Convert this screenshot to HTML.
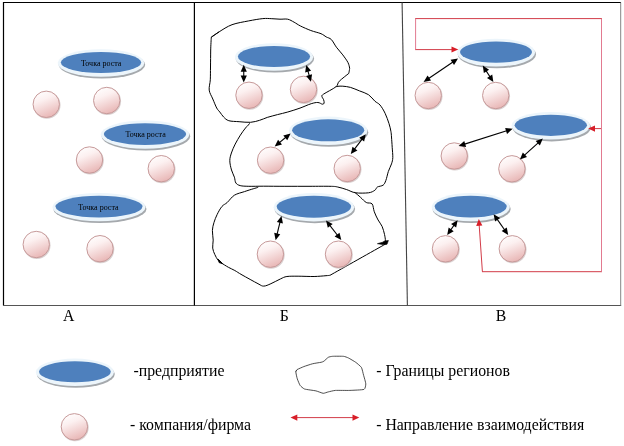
<!DOCTYPE html>
<html lang="ru"><head><meta charset="utf-8"><title>Точка роста</title>
<style>
html,body{margin:0;padding:0;background:#fff;}
body{width:624px;height:446px;overflow:hidden;font-family:"Liberation Serif",serif;}
svg{display:block;will-change:transform;}
text{font-family:"Liberation Serif",serif;fill:#000;}
</style></head><body>
<svg width="624" height="446" viewBox="0 0 624 446">
<defs>
<linearGradient id="pk" x1="0.2" y1="0" x2="0.6" y2="1">
<stop offset="0" stop-color="#ffffff"/><stop offset="0.35" stop-color="#fcf0f0"/><stop offset="1" stop-color="#e8b6b5"/>
</linearGradient>
<filter id="sh" x="-10%" y="-30%" width="120%" height="160%"><feGaussianBlur stdDeviation="0.5"/></filter>
</defs>
<rect x="0" y="0" width="624" height="446" fill="#fff"/>

<path d="M3.5,305.5 V2.5 H621" fill="none" stroke="#000" stroke-width="1.2"/>
<path d="M3,305.5 H621.2" fill="none" stroke="#555" stroke-width="1"/>
<path d="M620.7,2.5 V305.4" fill="none" stroke="#858585" stroke-width="1"/>
<path d="M194.4,2.5 V305.4" fill="none" stroke="#000" stroke-width="1.2"/>
<path d="M402.1,2.5 L407.4,305.4" fill="none" stroke="#444" stroke-width="1.1"/>
<g fill="none" stroke="#000" stroke-width="1" stroke-linejoin="round">
<path d="M211.3,37.2 C212.6,36.3 215.8,33.9 219.2,31.8 C222.6,29.7 227.1,26.5 232.0,24.7 C236.9,22.9 243.6,21.9 248.7,20.9 C253.8,19.9 258.9,19.0 262.8,18.6 C266.7,18.2 268.9,18.6 271.8,18.7 C274.7,18.8 277.4,19.1 280.0,19.2 C282.6,19.3 285.3,18.7 287.7,19.2 C290.1,19.7 292.0,21.1 294.1,22.2 C296.2,23.3 297.7,24.6 300.5,26.0 C303.3,27.4 307.4,29.2 310.8,30.5 C314.2,31.8 318.4,32.6 321.0,33.7 C323.6,34.8 324.5,35.9 326.2,36.9 C327.9,37.9 329.6,37.8 331.3,39.5 C333.0,41.2 334.5,44.6 336.4,47.2 C338.3,49.8 340.9,52.3 342.8,54.9 C344.7,57.5 346.9,60.4 348.0,62.6 C349.1,64.8 349.4,66.8 349.6,68.0 C349.8,69.2 349.5,69.1 349.4,70.0 C349.3,70.9 348.9,72.8 348.8,73.4 C347.2,74.7 341.5,79.0 339.3,81.2 C337.1,83.4 338.5,84.7 335.9,86.8 C333.3,88.9 325.9,92.5 323.6,94.1 C321.3,95.7 321.9,95.5 321.9,96.4 C321.9,97.3 323.2,98.6 323.6,99.7 C324.0,100.8 324.3,102.3 324.1,103.1 C323.9,103.8 323.4,104.3 322.4,104.2 C321.4,104.1 319.8,102.6 317.9,102.5 C316.0,102.4 314.2,102.8 311.2,103.7 C308.2,104.6 303.9,106.7 300.0,108.1 C296.1,109.5 291.6,110.9 287.8,112.0 C284.1,113.1 280.9,113.7 277.5,114.6 C274.1,115.5 270.3,116.5 267.3,117.4 C264.3,118.4 262.4,119.5 259.6,120.3 C256.8,121.1 254.0,122.1 250.6,122.3 C247.2,122.5 242.7,122.0 239.1,121.7 C235.5,121.4 231.4,121.5 228.8,120.7 C226.2,119.9 225.2,118.5 223.7,117.1 C222.2,115.6 221.0,113.5 219.8,112.0 C218.6,110.5 217.9,110.2 216.7,108.0 C215.5,105.8 214.1,102.0 212.8,99.0 C211.6,96.0 209.6,93.3 209.2,90.1 C208.8,86.9 210.1,83.6 210.3,79.8 C210.5,76.0 210.4,72.0 210.5,67.0 C210.6,62.0 210.6,55.0 210.7,50.0 C210.8,45.0 211.2,39.3 211.3,37.2 C212.6,36.3 217.9,32.7 219.2,31.8"/>
<path d="M335.9,86.8 C336.2,86.7 336.9,86.4 338.0,86.3 C339.1,86.2 340.7,86.0 342.8,86.2 C344.9,86.4 347.7,86.6 350.5,87.4 C353.3,88.2 356.5,89.7 359.5,90.9 C362.5,92.1 365.9,93.0 368.5,94.7 C371.1,96.4 373.0,99.5 374.9,101.2 C376.8,102.9 378.3,103.0 380.0,105.0 C381.7,107.0 383.6,110.2 385.1,113.3 C386.6,116.4 388.0,120.6 389.0,123.6 C390.0,126.6 390.5,129.1 390.9,131.3 C391.3,133.5 391.3,134.3 391.5,137.0 C391.7,139.7 392.0,143.9 392.2,147.3 C392.4,150.7 392.9,154.7 392.8,157.5 C392.7,160.3 392.2,161.6 391.5,163.9 C390.8,166.2 389.2,168.8 388.3,171.6 C387.4,174.4 386.7,178.3 385.8,180.6 C384.9,182.8 384.6,184.0 383.2,185.1 C381.8,186.2 378.8,186.2 377.4,187.0 C376.0,187.8 376.4,189.2 374.9,190.2 C373.4,191.2 371.7,192.4 368.5,192.8 C365.3,193.2 359.2,193.3 355.6,192.8 C352.0,192.3 349.7,190.6 346.7,189.6 C343.7,188.6 340.5,187.6 337.7,187.0 C334.9,186.4 334.6,186.4 330.0,186.3 C325.4,186.2 317.5,186.3 310.0,186.3 C302.5,186.3 292.7,186.3 284.9,186.3 C277.1,186.3 269.3,186.2 263.3,186.2 C257.3,186.2 252.7,186.4 248.8,186.3 C245.0,186.2 242.3,186.2 240.2,185.6 C238.0,185.0 236.9,184.4 235.9,183.0 C234.9,181.6 235.1,179.4 234.4,177.2 C233.7,175.0 232.3,172.8 231.5,170.0 C230.7,167.2 229.8,163.5 229.8,160.7 C229.8,157.9 230.5,155.8 231.4,153.0 C232.3,150.2 233.7,147.1 235.2,144.1 C236.7,141.1 238.7,137.8 240.4,135.1 C242.1,132.4 243.9,130.0 245.5,128.0 C247.1,126.0 249.2,124.1 250.0,123.3"/>
<path d="M258.2,187.3 C257.4,187.6 255.5,188.1 253.2,188.8 C250.9,189.5 247.6,190.5 244.5,191.6 C241.4,192.7 237.3,193.4 234.4,195.2 C231.5,197.0 229.3,200.6 227.2,202.5 C225.1,204.4 223.7,204.4 222.0,206.4 C220.3,208.4 218.5,211.7 217.2,214.4 C215.9,217.1 214.8,219.7 214.0,222.4 C213.2,225.1 212.5,227.5 212.4,230.4 C212.3,233.3 213.1,237.2 213.2,240.1 C213.2,243.0 212.4,245.7 212.7,248.1 C213.0,250.5 213.9,252.5 214.8,254.5 C215.7,256.5 216.9,258.7 218.0,260.1 C219.1,261.5 219.5,261.6 221.2,262.8 C222.9,264.0 226.1,266.0 228.4,267.3 C230.7,268.6 232.5,269.2 234.8,270.5 C237.1,271.8 238.1,272.7 242.0,274.9 C245.9,277.1 254.4,281.8 258.0,283.7 C261.6,285.6 261.6,286.1 263.7,286.1 C265.8,286.1 268.1,284.9 270.9,283.7 C273.7,282.5 277.8,280.1 280.5,278.9 C283.2,277.7 284.0,276.9 286.9,276.5 C289.8,276.1 293.6,276.2 298.1,276.2 C302.6,276.2 309.5,276.6 314.1,276.5 C318.8,276.4 323.4,275.9 326.0,275.7 C328.6,275.5 329.3,275.4 330.0,275.3 C339.3,270.1 376.5,249.1 385.8,243.9 C385.6,243.4 385.7,242.4 385.5,240.8 C385.3,239.2 385.1,236.8 384.5,234.4 C383.9,232.0 383.2,228.8 382.1,226.4 C381.0,224.0 379.4,222.4 378.1,220.0 C376.8,217.6 375.3,214.5 374.3,211.8 C373.3,209.1 373.4,205.5 372.1,203.9 C370.8,202.3 368.2,203.6 366.3,202.5 C364.4,201.4 362.5,199.1 360.6,197.4 C358.7,195.7 355.8,193.2 354.8,192.4"/>
<path d="M295.8,371.7 C295.9,371.5 296.6,369.9 297.3,369.5 C298.0,369.1 302.5,367.1 303.8,366.6 C305.1,366.1 311.0,364.2 312.4,363.8 C313.8,363.4 320.1,362.5 321.1,362.3 C322.1,362.1 323.3,361.6 323.9,361.2 C324.5,360.8 327.6,357.7 328.3,357.3 C329.0,356.9 331.3,356.4 332.6,356.3 C333.9,356.2 342.1,356.2 343.4,356.3 C344.7,356.4 347.5,357.5 348.5,358.0 C349.5,358.5 354.6,361.5 355.7,362.3 C356.8,363.1 360.7,366.3 361.4,367.4 C362.1,368.5 363.2,373.9 363.6,375.3 C364.0,376.7 365.8,382.7 365.8,383.9 C365.8,385.1 365.3,388.9 364.0,389.4 C362.7,389.9 352.3,390.3 349.9,390.4 C347.5,390.5 337.3,390.3 335.5,390.4 C333.7,390.5 329.3,391.7 328.3,391.9 C327.3,392.1 324.2,393.4 323.2,393.3 C322.2,393.2 317.6,391.3 316.0,390.9 C314.4,390.5 305.8,389.5 304.5,389.0 C303.2,388.5 300.7,386.2 300.1,385.4 C299.5,384.6 297.7,380.0 297.3,378.9 C296.9,377.8 295.8,372.5 295.8,371.7 C295.8,370.9 297.2,369.7 297.3,369.5" stroke-width="0.8" stroke="#222"/>
<path d="M377.4,243.7 L382.6,242.2 L384.6,240.9 L388.4,240.5 L387,244.3 L383,244.6 Z" fill="#000" stroke-width="0.6"/>
<path d="M218.2,259.2 L222.6,263.6 L219.2,262.6 Z" fill="#000" stroke-width="1"/>
</g>
<ellipse cx="101.90" cy="64.80" rx="43.30" ry="13.80" fill="#8f9499" opacity="0.8" filter="url(#sh)"/>
<ellipse cx="101.00" cy="63.00" rx="43.30" ry="13.80" fill="#ecf5fb"/>
<ellipse cx="101.00" cy="62.50" rx="40.20" ry="10.60" fill="#4e80bd"/>
<text x="101.2" y="65.70" font-size="8" text-anchor="middle" fill="#0d2040">Точка роста</text>
<ellipse cx="145.90" cy="136.40" rx="44.30" ry="14.10" fill="#8f9499" opacity="0.8" filter="url(#sh)"/>
<ellipse cx="145.00" cy="134.60" rx="44.30" ry="14.10" fill="#ecf5fb"/>
<ellipse cx="145.00" cy="134.10" rx="41.20" ry="10.90" fill="#4e80bd"/>
<text x="145.6" y="137.30" font-size="8" text-anchor="middle" fill="#0d2040">Точка роста</text>
<ellipse cx="99.90" cy="208.90" rx="46.60" ry="14.10" fill="#8f9499" opacity="0.8" filter="url(#sh)"/>
<ellipse cx="99.00" cy="207.10" rx="46.60" ry="14.10" fill="#ecf5fb"/>
<ellipse cx="99.00" cy="206.60" rx="43.50" ry="10.90" fill="#4e80bd"/>
<text x="98.4" y="209.80" font-size="8" text-anchor="middle" fill="#0d2040">Точка роста</text>
<ellipse cx="274.90" cy="58.80" rx="39.20" ry="13.80" fill="#8f9499" opacity="0.8" filter="url(#sh)"/>
<ellipse cx="274.00" cy="57.00" rx="39.20" ry="13.80" fill="#ecf5fb"/>
<ellipse cx="274.00" cy="56.50" rx="36.10" ry="10.60" fill="#4e80bd"/>
<ellipse cx="329.10" cy="132.60" rx="39.20" ry="14.20" fill="#8f9499" opacity="0.8" filter="url(#sh)"/>
<ellipse cx="328.20" cy="130.80" rx="39.20" ry="14.20" fill="#ecf5fb"/>
<ellipse cx="328.20" cy="130.30" rx="36.10" ry="11.00" fill="#4e80bd"/>
<ellipse cx="314.80" cy="209.00" rx="40.30" ry="14.20" fill="#8f9499" opacity="0.8" filter="url(#sh)"/>
<ellipse cx="313.90" cy="207.20" rx="40.30" ry="14.20" fill="#ecf5fb"/>
<ellipse cx="313.90" cy="206.70" rx="37.20" ry="11.00" fill="#4e80bd"/>
<ellipse cx="496.90" cy="54.40" rx="39.10" ry="13.90" fill="#8f9499" opacity="0.8" filter="url(#sh)"/>
<ellipse cx="496.00" cy="52.60" rx="39.10" ry="13.90" fill="#ecf5fb"/>
<ellipse cx="496.00" cy="52.10" rx="36.00" ry="10.70" fill="#4e80bd"/>
<ellipse cx="551.70" cy="127.60" rx="39.30" ry="13.80" fill="#8f9499" opacity="0.8" filter="url(#sh)"/>
<ellipse cx="550.80" cy="125.80" rx="39.30" ry="13.80" fill="#ecf5fb"/>
<ellipse cx="550.80" cy="125.30" rx="36.20" ry="10.60" fill="#4e80bd"/>
<ellipse cx="471.60" cy="208.90" rx="39.10" ry="14.10" fill="#8f9499" opacity="0.8" filter="url(#sh)"/>
<ellipse cx="470.70" cy="207.10" rx="39.10" ry="14.10" fill="#ecf5fb"/>
<ellipse cx="470.70" cy="206.60" rx="36.00" ry="10.90" fill="#4e80bd"/>
<ellipse cx="75.80" cy="374.10" rx="39.00" ry="13.70" fill="#8f9499" opacity="0.8" filter="url(#sh)"/>
<ellipse cx="74.90" cy="372.30" rx="39.00" ry="13.70" fill="#ecf5fb"/>
<ellipse cx="74.90" cy="371.80" rx="35.90" ry="10.50" fill="#4e80bd"/>
<circle cx="46.85" cy="105.10" r="13.7" fill="#b9a9a9" opacity="0.55"/>
<circle cx="46.25" cy="104.30" r="13.2" fill="url(#pk)" stroke="#c79a9a" stroke-width="1"/>
<circle cx="107.35" cy="101.30" r="13.7" fill="#b9a9a9" opacity="0.55"/>
<circle cx="106.75" cy="100.50" r="13.2" fill="url(#pk)" stroke="#c79a9a" stroke-width="1"/>
<circle cx="90.10" cy="160.80" r="13.7" fill="#b9a9a9" opacity="0.55"/>
<circle cx="89.50" cy="160.00" r="13.2" fill="url(#pk)" stroke="#c79a9a" stroke-width="1"/>
<circle cx="161.85" cy="169.50" r="13.7" fill="#b9a9a9" opacity="0.55"/>
<circle cx="161.25" cy="168.70" r="13.2" fill="url(#pk)" stroke="#c79a9a" stroke-width="1"/>
<circle cx="36.85" cy="245.30" r="13.7" fill="#b9a9a9" opacity="0.55"/>
<circle cx="36.25" cy="244.50" r="13.2" fill="url(#pk)" stroke="#c79a9a" stroke-width="1"/>
<circle cx="100.60" cy="249.50" r="13.7" fill="#b9a9a9" opacity="0.55"/>
<circle cx="100.00" cy="248.70" r="13.2" fill="url(#pk)" stroke="#c79a9a" stroke-width="1"/>
<circle cx="249.60" cy="96.05" r="13.7" fill="#b9a9a9" opacity="0.55"/>
<circle cx="249.00" cy="95.25" r="13.2" fill="url(#pk)" stroke="#c79a9a" stroke-width="1"/>
<circle cx="304.10" cy="90.20" r="13.7" fill="#b9a9a9" opacity="0.55"/>
<circle cx="303.50" cy="89.40" r="13.2" fill="url(#pk)" stroke="#c79a9a" stroke-width="1"/>
<circle cx="271.20" cy="161.00" r="13.7" fill="#b9a9a9" opacity="0.55"/>
<circle cx="270.60" cy="160.20" r="13.2" fill="url(#pk)" stroke="#c79a9a" stroke-width="1"/>
<circle cx="347.80" cy="169.30" r="13.7" fill="#b9a9a9" opacity="0.55"/>
<circle cx="347.20" cy="168.50" r="13.2" fill="url(#pk)" stroke="#c79a9a" stroke-width="1"/>
<circle cx="271.00" cy="255.00" r="13.7" fill="#b9a9a9" opacity="0.55"/>
<circle cx="270.40" cy="254.20" r="13.2" fill="url(#pk)" stroke="#c79a9a" stroke-width="1"/>
<circle cx="339.10" cy="255.00" r="13.7" fill="#b9a9a9" opacity="0.55"/>
<circle cx="338.50" cy="254.20" r="13.2" fill="url(#pk)" stroke="#c79a9a" stroke-width="1"/>
<circle cx="428.85" cy="96.30" r="13.7" fill="#b9a9a9" opacity="0.55"/>
<circle cx="428.25" cy="95.50" r="13.2" fill="url(#pk)" stroke="#c79a9a" stroke-width="1"/>
<circle cx="496.35" cy="96.30" r="13.7" fill="#b9a9a9" opacity="0.55"/>
<circle cx="495.75" cy="95.50" r="13.2" fill="url(#pk)" stroke="#c79a9a" stroke-width="1"/>
<circle cx="454.85" cy="156.80" r="13.7" fill="#b9a9a9" opacity="0.55"/>
<circle cx="454.25" cy="156.00" r="13.2" fill="url(#pk)" stroke="#c79a9a" stroke-width="1"/>
<circle cx="512.50" cy="169.60" r="13.7" fill="#b9a9a9" opacity="0.55"/>
<circle cx="511.90" cy="168.80" r="13.2" fill="url(#pk)" stroke="#c79a9a" stroke-width="1"/>
<circle cx="446.10" cy="249.60" r="13.7" fill="#b9a9a9" opacity="0.55"/>
<circle cx="445.50" cy="248.80" r="13.2" fill="url(#pk)" stroke="#c79a9a" stroke-width="1"/>
<circle cx="512.90" cy="249.60" r="13.7" fill="#b9a9a9" opacity="0.55"/>
<circle cx="512.30" cy="248.80" r="13.2" fill="url(#pk)" stroke="#c79a9a" stroke-width="1"/>
<circle cx="75.00" cy="427.60" r="13.7" fill="#b9a9a9" opacity="0.55"/>
<circle cx="74.40" cy="426.80" r="13.2" fill="url(#pk)" stroke="#c79a9a" stroke-width="1"/>
<g fill="none" stroke="#d23c48" stroke-width="1">
<path d="M415.1,18.6 H602 M415.1,49.6 H453 M482,271.7 H602 M601.5,128.6 H593 M295,417.6 H355 M482.4,271.7 L479.1,224"/>
</g>
<g fill="none" stroke="#e27a90" stroke-width="1">
<path d="M415.6,18.6 V49.6 M601.5,18.6 V271.7"/>
</g>
<path d="M458.30,49.50 L451.50,52.60 L451.50,46.40 Z" fill="#d81e28"/>
<path d="M478.80,219.00 L482.37,225.57 L476.18,226.00 Z" fill="#d81e28"/>
<path d="M588.20,128.60 L595.00,125.50 L595.00,131.70 Z" fill="#d81e28"/>
<path d="M290.50,417.60 L297.30,414.50 L297.30,420.70 Z" fill="#d81e28"/>
<path d="M359.30,417.60 L352.50,420.70 L352.50,414.50 Z" fill="#d81e28"/>
<path d="M243.75,67.75 L243.75,79.50" stroke="#000" stroke-width="1.1" fill="none"/>
<path d="M243.75,82.50 L240.65,75.60 L246.85,75.60 Z" fill="#000"/>
<path d="M243.75,64.75 L246.85,71.65 L240.65,71.65 Z" fill="#000"/>
<path d="M307.07,67.81 L310.13,78.89" stroke="#000" stroke-width="1.1" fill="none"/>
<path d="M310.93,81.78 L306.11,75.96 L312.08,74.31 Z" fill="#000"/>
<path d="M306.27,64.92 L311.09,70.74 L305.12,72.39 Z" fill="#000"/>
<path d="M277.03,144.61 L288.27,135.29" stroke="#000" stroke-width="1.1" fill="none"/>
<path d="M290.59,133.38 L287.25,140.17 L283.29,135.39 Z" fill="#000"/>
<path d="M274.71,146.52 L278.05,139.73 L282.01,144.51 Z" fill="#000"/>
<path d="M352.61,151.70 L363.99,136.60" stroke="#000" stroke-width="1.1" fill="none"/>
<path d="M365.80,134.20 L364.12,141.58 L359.17,137.84 Z" fill="#000"/>
<path d="M350.80,154.10 L352.48,146.72 L357.43,150.46 Z" fill="#000"/>
<path d="M280.80,218.93 L276.30,237.27" stroke="#000" stroke-width="1.1" fill="none"/>
<path d="M275.58,240.19 L274.22,232.75 L280.24,234.22 Z" fill="#000"/>
<path d="M281.52,216.01 L282.88,223.45 L276.86,221.98 Z" fill="#000"/>
<path d="M327.84,222.87 L339.46,237.73" stroke="#000" stroke-width="1.1" fill="none"/>
<path d="M341.31,240.09 L334.62,236.57 L339.50,232.75 Z" fill="#000"/>
<path d="M325.99,220.51 L332.68,224.03 L327.80,227.85 Z" fill="#000"/>
<path d="M426.07,80.20 L455.53,60.20" stroke="#000" stroke-width="1.1" fill="none"/>
<path d="M458.01,58.52 L454.04,64.96 L450.56,59.83 Z" fill="#000"/>
<path d="M423.59,81.88 L427.56,75.44 L431.04,80.57 Z" fill="#000"/>
<path d="M484.36,68.10 L491.74,79.50" stroke="#000" stroke-width="1.1" fill="none"/>
<path d="M493.37,82.02 L487.02,77.91 L492.22,74.54 Z" fill="#000"/>
<path d="M482.73,65.58 L489.08,69.69 L483.88,73.06 Z" fill="#000"/>
<path d="M461.48,145.14 L509.82,129.76" stroke="#000" stroke-width="1.1" fill="none"/>
<path d="M512.68,128.85 L507.04,133.89 L505.16,127.99 Z" fill="#000"/>
<path d="M458.62,146.05 L464.26,141.01 L466.14,146.91 Z" fill="#000"/>
<path d="M522.05,157.42 L540.65,140.58" stroke="#000" stroke-width="1.1" fill="none"/>
<path d="M542.87,138.56 L539.84,145.49 L535.68,140.90 Z" fill="#000"/>
<path d="M519.83,159.44 L522.86,152.51 L527.02,157.10 Z" fill="#000"/>
<path d="M455.87,222.65 L448.93,232.55" stroke="#000" stroke-width="1.1" fill="none"/>
<path d="M447.21,235.01 L448.63,227.58 L453.71,231.13 Z" fill="#000"/>
<path d="M457.59,220.19 L456.17,227.62 L451.09,224.07 Z" fill="#000"/>
<path d="M495.34,216.64 L506.46,232.46" stroke="#000" stroke-width="1.1" fill="none"/>
<path d="M508.19,234.91 L501.68,231.05 L506.75,227.48 Z" fill="#000"/>
<path d="M493.61,214.19 L500.12,218.05 L495.05,221.62 Z" fill="#000"/>
<text x="68.7" y="320.6" font-size="15.8" text-anchor="middle">А</text>
<text x="284.3" y="320.6" font-size="15.8" text-anchor="middle">Б</text>
<text x="500.9" y="320.6" font-size="15.8" text-anchor="middle">В</text>
<text x="133.5" y="376" font-size="15.8">-предприятие</text>
<text x="130" y="429.9" font-size="15.8">- компания/фирма</text>
<text x="376.2" y="375.6" font-size="15.8">- Границы регионов</text>
<text x="376.2" y="429.7" font-size="15.8">- Направление взаимодействия</text>
</svg></body></html>
